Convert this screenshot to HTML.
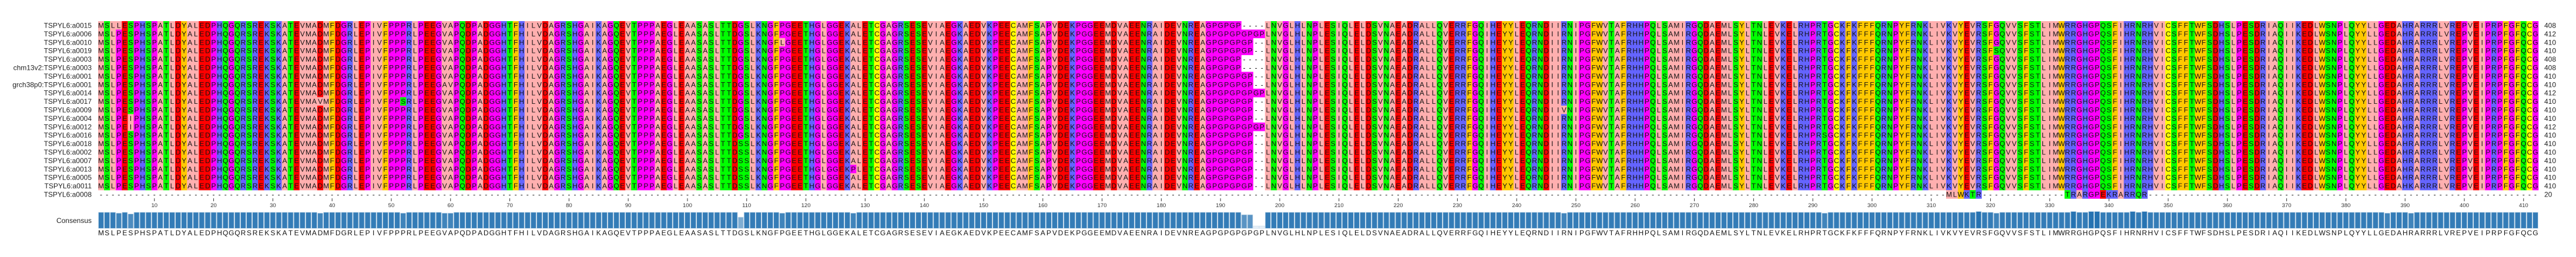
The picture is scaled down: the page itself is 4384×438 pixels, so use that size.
<!DOCTYPE html>
<html><head><meta charset="utf-8"><title>TSPYL6 alignment</title>
<style>
html,body{margin:0;padding:0;background:#fff;}
svg{display:block;}
</style></head>
<body>
<svg id="chart" width="4384" height="438" xmlns="http://www.w3.org/2000/svg" font-family="Liberation Sans, DejaVu Sans, sans-serif"></svg>
<script>
const seqNames = ["TSPYL6:a0015","TSPYL6:a0006","TSPYL6:a0010","TSPYL6:a0019","TSPYL6:a0003","chm13v2:TSPYL6:a0003","TSPYL6:a0001","grch38p0:TSPYL6:a0001","TSPYL6:a0014","TSPYL6:a0017","TSPYL6:a0009","TSPYL6:a0004","TSPYL6:a0012","TSPYL6:a0016","TSPYL6:a0018","TSPYL6:a0002","TSPYL6:a0007","TSPYL6:a0013","TSPYL6:a0005","TSPYL6:a0011","TSPYL6:a0008"];
const seqLengths = [408,412,410,410,408,408,410,410,412,410,410,410,412,410,410,410,410,410,410,410,20];
const consensusSeq = "MSLPESPHSPATLDYALEDPHQGQRSREKSKATEVMADMFDGRLEPIVFPPPRLPEEGVAPQDPADGGH" +
 "TFHILVDAGRSHGAIKAGQEVTPPPAEGLEAASASLTTDGSLKNGFPGEETHGLGGEKALETCGAGRS" +
 "ESEVIAEGKAEDVKPEECAMFSAPVDEKPGGEEMDVAEENRAIDEVNREAGPGPGPGPGPLNVGLHLNP" +
 "LESIQLELDSVNAEADRALLQVERRFGQIHEYYLEQRNDIIRNIPGFWVTAFRHHPQLSAMIRGQDAE" +
 "MLSYLTNLEVKELRHPRTGCKFKFFFQRNPYFRNKLIVKVYEVRSFGQVVSFSTLIMWRRGHGPQSFIH" +
 "RNRHVICSFFTWFSDHSLPESDRIAQIIKEDLWSNPLQYYLLGEDAHRARRRLVREPVEIPRPFGFQCG";
// [row, column(1-based), residue]
const variantRows = [0,11,12,9,9,7,7,2,14,15,16,17,18,19,17,13,3,10,5,19];
const variantCols = [4,6,6,38,52,59,60,116,109,109,109,109,109,109,128,292,321,248,387,391];
const variantRes  = ["L","I","I","V","S","A","V","L","S","S","S","S","S","S","P","S","S","V","D","K"];
// gap columns per row type
const gapCols408 = [194,195,196,197];
const gapCols410 = [196,197];
// residues of a0008 fragment
const fragStarts = [313,333];
const fragSeqs = ["MLWKTR","TRARGPEKRARRQR"];
const tickLabels = [10,20,30,40,50,60,70,80,90,100,110,120,130,140,150,160,170,180,190,200,210,220,230,240,250,260,270,280,290,300,310,320,330,340,350,360,370,380,390,400,410];

const NS="http://www.w3.org/2000/svg";
const svg=document.getElementById('chart');
const X0=167, CW=10.08, Y0=36, RH=14.4;
const NC=consensusSeq.length;
const colX=c=>X0+(c-1)*CW;
const rowY=r=>Y0+r*RH;
const colors={A:"#ffafaf",V:"#ffafaf",L:"#ffafaf",I:"#ffafaf",M:"#ffafaf",
 S:"#00ff00",T:"#00ff00",N:"#00ff00",Q:"#00ff00",P:"#ff00ff",G:"#ff00ff",
 H:"#6464ff",K:"#6464ff",R:"#6464ff",D:"#ff0000",E:"#ff0000",
 F:"#ffc800",Y:"#ffc800",W:"#ffc800",C:"#ffff00"};
function mk(tag,attrs){const e=document.createElementNS(NS,tag);for(const k in attrs)e.setAttribute(k,attrs[k]);return e;}

// build sequences
const seqs=[];
for(let r=0;r<seqNames.length;r++){
  let a;
  if(seqLengths[r]<100){
    a=new Array(NC).fill('-');
    fragStarts.forEach((s,i)=>{for(let k=0;k<fragSeqs[i].length;k++)a[s-1+k]=fragSeqs[i][k];});
  } else {
    a=consensusSeq.split('');
    const g=seqLengths[r]===408?gapCols408:(seqLengths[r]===410?gapCols410:[]);
    g.forEach(c=>a[c-1]='-');
  }
  seqs.push(a);
}
variantRows.forEach((r,i)=>{seqs[r][variantCols[i]-1]=variantRes[i];});

// rows
for(let r=0;r<seqs.length;r++){
  const g=mk('g',{});
  
  
  const y=rowY(r);
  const lab=mk('text',{x:156,y:y+RH/2+4.3,'text-anchor':'end','font-size':'12',fill:'#222'});
  lab.textContent=seqNames[r];
  
  
  g.appendChild(lab);
  const a=seqs[r];
  let c=0;
  while(c<NC){
    const col=colors[a[c]];
    let e=c; while(e+1<NC&&colors[a[e+1]]===col)e++;
    if(col){
      const rc=mk('rect',{x:colX(c+1),y:y,width:(e-c+1)*CW+0.3,height:RH+0.3,fill:col});
      
      
      g.appendChild(rc);
    }
    c=e+1;
  }
  const t=mk('text',{y:y+RH/2+4.3,'font-size':'12',fill:'#111','text-anchor':'middle'});
  t.setAttribute('x',a.map((_,i)=>(colX(i+1)+CW/2).toFixed(2)).join(' '));
  t.textContent=a.join('');
  
  
  g.appendChild(t);
  const n=mk('text',{x:4330,y:y+RH/2+4.3,'font-size':'12',fill:'#222'});
  n.textContent=String(seqLengths[r]);
  
  
  g.appendChild(n);
  svg.appendChild(g);
}

// ticks
const tg=mk('g',{});


tickLabels.forEach(v=>{
  const x=colX(v)+CW/2;
  const l=mk('line',{x1:x,x2:x,y1:338,y2:343,stroke:'#333','stroke-width':1});
  
  
  tg.appendChild(l);
  const t=mk('text',{x:x,y:353,'text-anchor':'middle','font-size':'9.5',fill:'#333'});
  t.textContent=String(v);
  
  
  tg.appendChild(t);
});
svg.appendChild(tg);

// consensus
const cg=mk('g',{});


const cl=mk('text',{x:156,y:380,'text-anchor':'end','font-size':'12',fill:'#222'});
cl.textContent='Consensus';


cg.appendChild(cl);
const BOT=389.3, HMAX=28.9;
for(let c=0;c<NC;c++){
  let cnt=0;
  for(let r=0;r<seqs.length;r++) if(seqs[r][c]===consensusSeq[c]) cnt++;
  const f=cnt/seqs.length;
  const h=f*HMAX;
  const b=mk('rect',{x:colX(c+1)+0.5,y:BOT-h,width:CW-1,height:h,fill:'#2673b2','fill-opacity':Math.max(0.12,Math.pow(f,1.3)).toFixed(3),stroke:'#cfe0ee','stroke-width':0.8});
  
  
  cg.appendChild(b);
}
const ct=mk('text',{y:401,'font-size':'12',fill:'#111','text-anchor':'middle'});
ct.setAttribute('x',consensusSeq.split('').map((_,i)=>(colX(i+1)+CW/2).toFixed(2)).join(' '));
ct.textContent=consensusSeq;


cg.appendChild(ct);
svg.appendChild(cg);
</script>
</body></html>
